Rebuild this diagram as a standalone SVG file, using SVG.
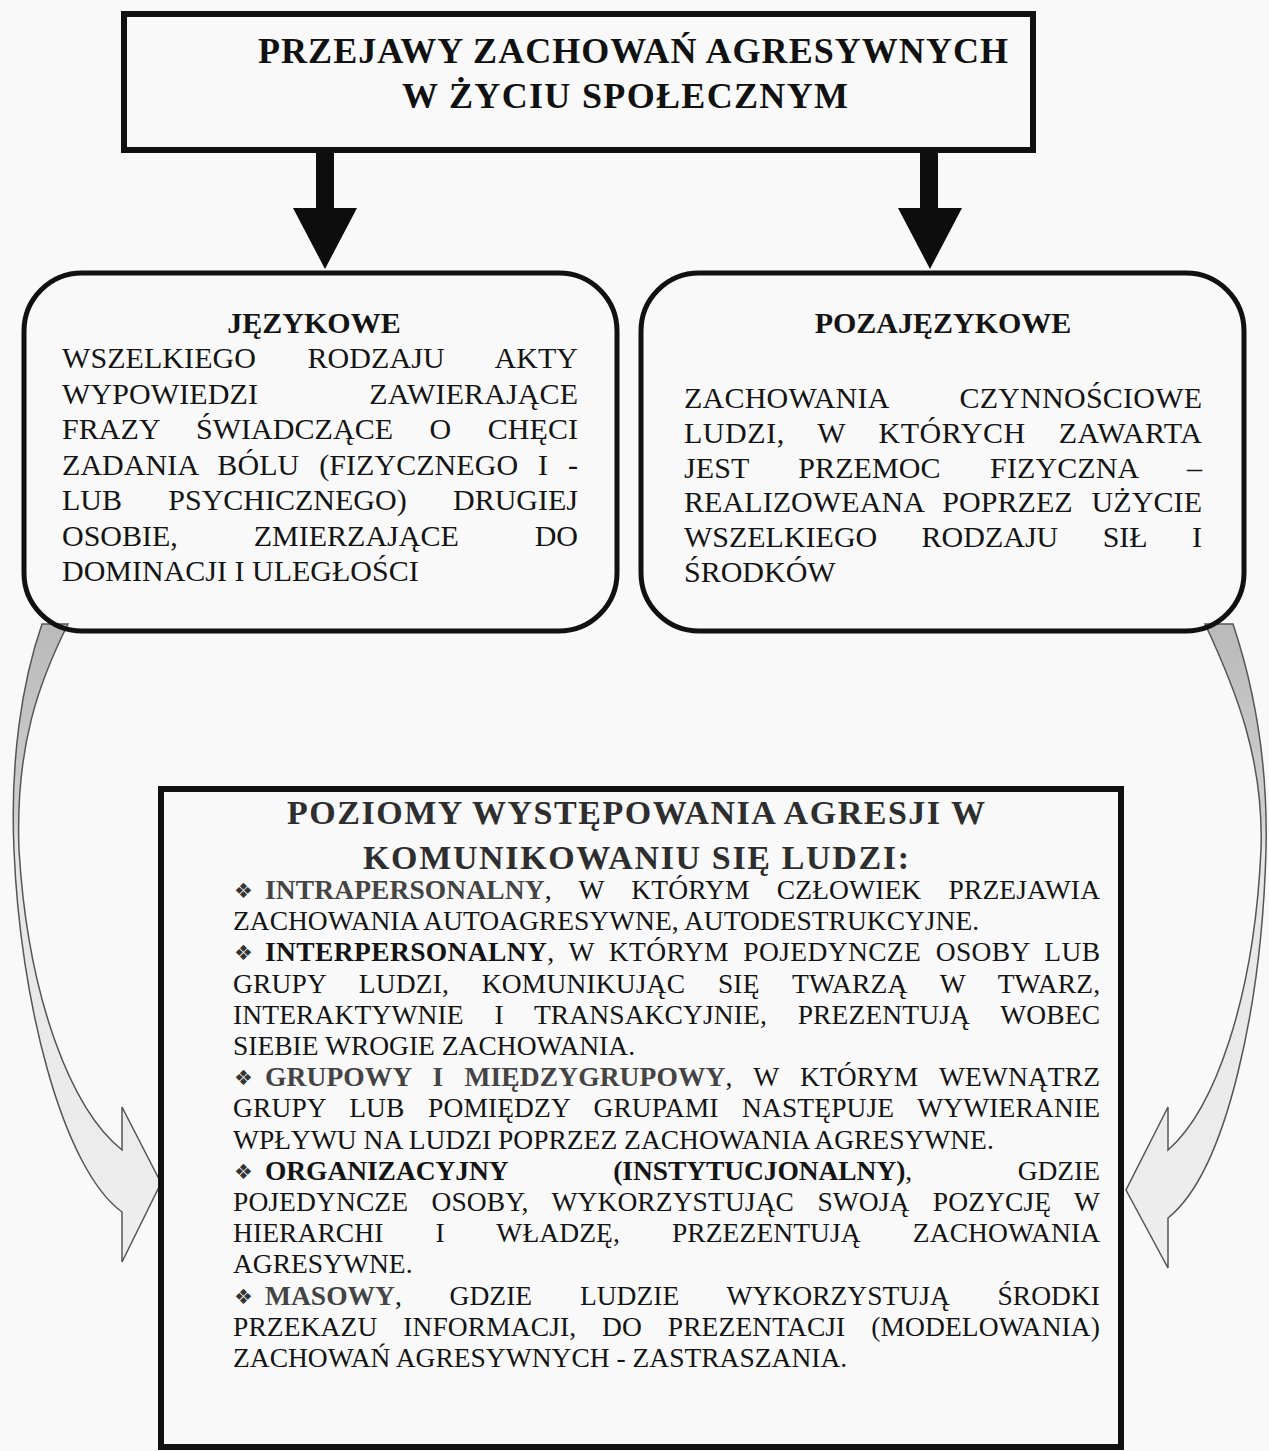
<svg xmlns="http://www.w3.org/2000/svg" width="1269" height="1451" viewBox="0 0 1269 1451">
<defs>
<style>
.t{font-family:"Liberation Serif","Times New Roman",serif;fill:#141414}
.b{font-weight:bold}
.g{fill:#444}
.h{font-size:36px;font-weight:bold;text-anchor:middle;fill:#111}
.s{font-size:30px}
.m{font-size:27.5px}
.bt{font-size:34px;font-weight:bold;fill:#2e2e2e}
.bul{font-family:"DejaVu Sans",sans-serif;font-size:21px;fill:#333}
.box{fill:none;stroke:#111}
.ribbon{stroke:#555;stroke-width:1.5}
</style>
<linearGradient id="gl" gradientUnits="userSpaceOnUse" x1="0" y1="620" x2="0" y2="1270">
<stop offset="0" stop-color="#b9b9b9"/>
<stop offset="0.3" stop-color="#cfcfcf"/>
<stop offset="0.35" stop-color="#e6e6e6"/>
<stop offset="1" stop-color="#eeeeee"/>
</linearGradient>
</defs>
<rect x="0" y="0" width="1269" height="1451" fill="#f9f9fa"/>

<g id="connectors">
<polygon points="316,150 334,150 334,208 357,208 325,269 293,208 316,208" fill="#0d0d0d"/>
<polygon points="920,150 938,150 938,208 962,208 930,269 898,208 920,208" fill="#0d0d0d"/>
<path class="ribbon" fill="url(#gl)" d="M42,624 C22,682 10,760 14,850 C20,1000 62,1168 122,1212 L122,1262 L161,1183 L122,1107 L122,1150 C72,1110 28,1000 19,850 C15,745 40,680 68,624 Z"/>
<path class="ribbon" fill="url(#gl)" d="M1233,624 C1255,690 1268,765 1266,850 C1262,1000 1228,1170 1168,1218 L1168,1268 L1126,1190 L1168,1107 L1168,1150 C1214,1110 1254,1000 1261,850 C1264,760 1236,690 1205,624 Z"/>
</g>

<g id="top">
<rect class="box" x="124" y="14" width="909" height="136" stroke-width="6"/>
<text class="t h" x="633" y="63" textLength="750">PRZEJAWY ZACHOWAŃ AGRESYWNYCH</text>
<text class="t h" x="625" y="108" textLength="446">W ŻYCIU SPOŁECZNYM</text>
</g>

<g id="jezykowe">
<rect class="box" x="24" y="273" width="593" height="358" rx="58" stroke-width="5"/>
<text class="t b s" x="314" y="333" text-anchor="middle">JĘZYKOWE</text>
<text class="t s" x="62" y="368" word-spacing="43.9" textLength="516">WSZELKIEGO RODZAJU AKTY</text>
<text class="t s" x="62" y="403.5" word-spacing="103.6" textLength="516">WYPOWIEDZI ZAWIERAJĄCE</text>
<text class="t s" x="62" y="439" word-spacing="28.9" textLength="516">FRAZY ŚWIADCZĄCE O CHĘCI</text>
<text class="t s" x="62" y="474.5" word-spacing="12.3" textLength="516">ZADANIA BÓLU (FIZYCZNEGO I -</text>
<text class="t s" x="62" y="510" word-spacing="38.8" textLength="516">LUB PSYCHICZNEGO) DRUGIEJ</text>
<text class="t s" x="62" y="545.5" word-spacing="68.4" textLength="516">OSOBIE, ZMIERZAJĄCE DO</text>
<text class="t s" x="62" y="581">DOMINACJI I ULEGŁOŚCI</text>
</g>

<g id="pozajezykowe">
<rect class="box" x="641" y="273" width="603" height="358" rx="58" stroke-width="5"/>
<text class="t b s" x="943" y="333" text-anchor="middle">POZAJĘZYKOWE</text>
<text class="t s" x="684" y="408" word-spacing="63.9" textLength="518">ZACHOWANIA CZYNNOŚCIOWE</text>
<text class="t s" x="684" y="442.8" word-spacing="24.9" textLength="518">LUDZI, W KTÓRYCH ZAWARTA</text>
<text class="t s" x="684" y="477.6" word-spacing="41.8" textLength="518">JEST PRZEMOC FIZYCZNA –</text>
<text class="t s" x="684" y="512.4" word-spacing="11.3" textLength="518">REALIZOWEANA POPRZEZ UŻYCIE</text>
<text class="t s" x="684" y="547.2" word-spacing="36.9" textLength="518">WSZELKIEGO RODZAJU SIŁ I</text>
<text class="t s" x="684" y="582">ŚRODKÓW</text>
</g>

<g id="poziomy">
<rect class="box" x="161" y="789" width="960" height="658" stroke-width="6"/>
<text class="t bt" x="287" y="824" textLength="698">POZIOMY WYSTĘPOWANIA AGRESJI W</text>
<text class="t bt" x="363" y="869" textLength="546">KOMUNIKOWANIU SIĘ LUDZI:</text>

<text class="bul" x="234" y="898">❖</text>
<text class="t m" x="265" y="899" word-spacing="20.3" textLength="835"><tspan class="b g">INTRAPERSONALNY</tspan>, W KTÓRYM CZŁOWIEK PRZEJAWIA</text>
<text class="t m" x="233" y="930">ZACHOWANIA AUTOAGRESYWNE, AUTODESTRUKCYJNE.</text>
<text class="bul" x="234" y="960">❖</text>
<text class="t m" x="265" y="961" word-spacing="7.2" textLength="835"><tspan class="b">INTERPERSONALNY</tspan>, W KTÓRYM POJEDYNCZE OSOBY LUB</text>
<text class="t m" x="233" y="993" word-spacing="25.8" textLength="867">GRUPY LUDZI, KOMUNIKUJĄC SIĘ TWARZĄ W TWARZ,</text>
<text class="t m" x="233" y="1024" word-spacing="23.7" textLength="867">INTERAKTYWNIE I TRANSAKCYJNIE, PREZENTUJĄ WOBEC</text>
<text class="t m" x="233" y="1055">SIEBIE WROGIE ZACHOWANIA.</text>
<text class="bul" x="234" y="1085">❖</text>
<text class="t m" x="265" y="1086" word-spacing="14.2" textLength="835"><tspan class="b g">GRUPOWY I MIĘDZYGRUPOWY</tspan>, W KTÓRYM WEWNĄTRZ</text>
<text class="t m" x="233" y="1117" word-spacing="16.5" textLength="867">GRUPY LUB POMIĘDZY GRUPAMI NASTĘPUJE WYWIERANIE</text>
<text class="t m" x="233" y="1149">WPŁYWU NA LUDZI POPRZEZ ZACHOWANIA AGRESYWNE.</text>
<text class="bul" x="234" y="1179">❖</text>
<text class="t m" x="265" y="1180" word-spacing="98.9" textLength="835"><tspan class="b">ORGANIZACYJNY (INSTYTUCJONALNY)</tspan>, GDZIE</text>
<text class="t m" x="233" y="1211" word-spacing="16.4" textLength="867">POJEDYNCZE OSOBY, WYKORZYSTUJĄC SWOJĄ POZYCJĘ W</text>
<text class="t m" x="233" y="1242" word-spacing="45.1" textLength="867">HIERARCHI I WŁADZĘ, PRZEZENTUJĄ ZACHOWANIA</text>
<text class="t m" x="233" y="1273">AGRESYWNE.</text>
<text class="bul" x="234" y="1304">❖</text>
<text class="t m" x="265" y="1305" word-spacing="40.9" textLength="835"><tspan class="b g">MASOWY</tspan>, GDZIE LUDZIE WYKORZYSTUJĄ ŚRODKI</text>
<text class="t m" x="233" y="1336" word-spacing="18.9" textLength="867">PRZEKAZU INFORMACJI, DO PREZENTACJI (MODELOWANIA)</text>
<text class="t m" x="233" y="1367">ZACHOWAŃ AGRESYWNYCH - ZASTRASZANIA.</text>
</g>
</svg>
